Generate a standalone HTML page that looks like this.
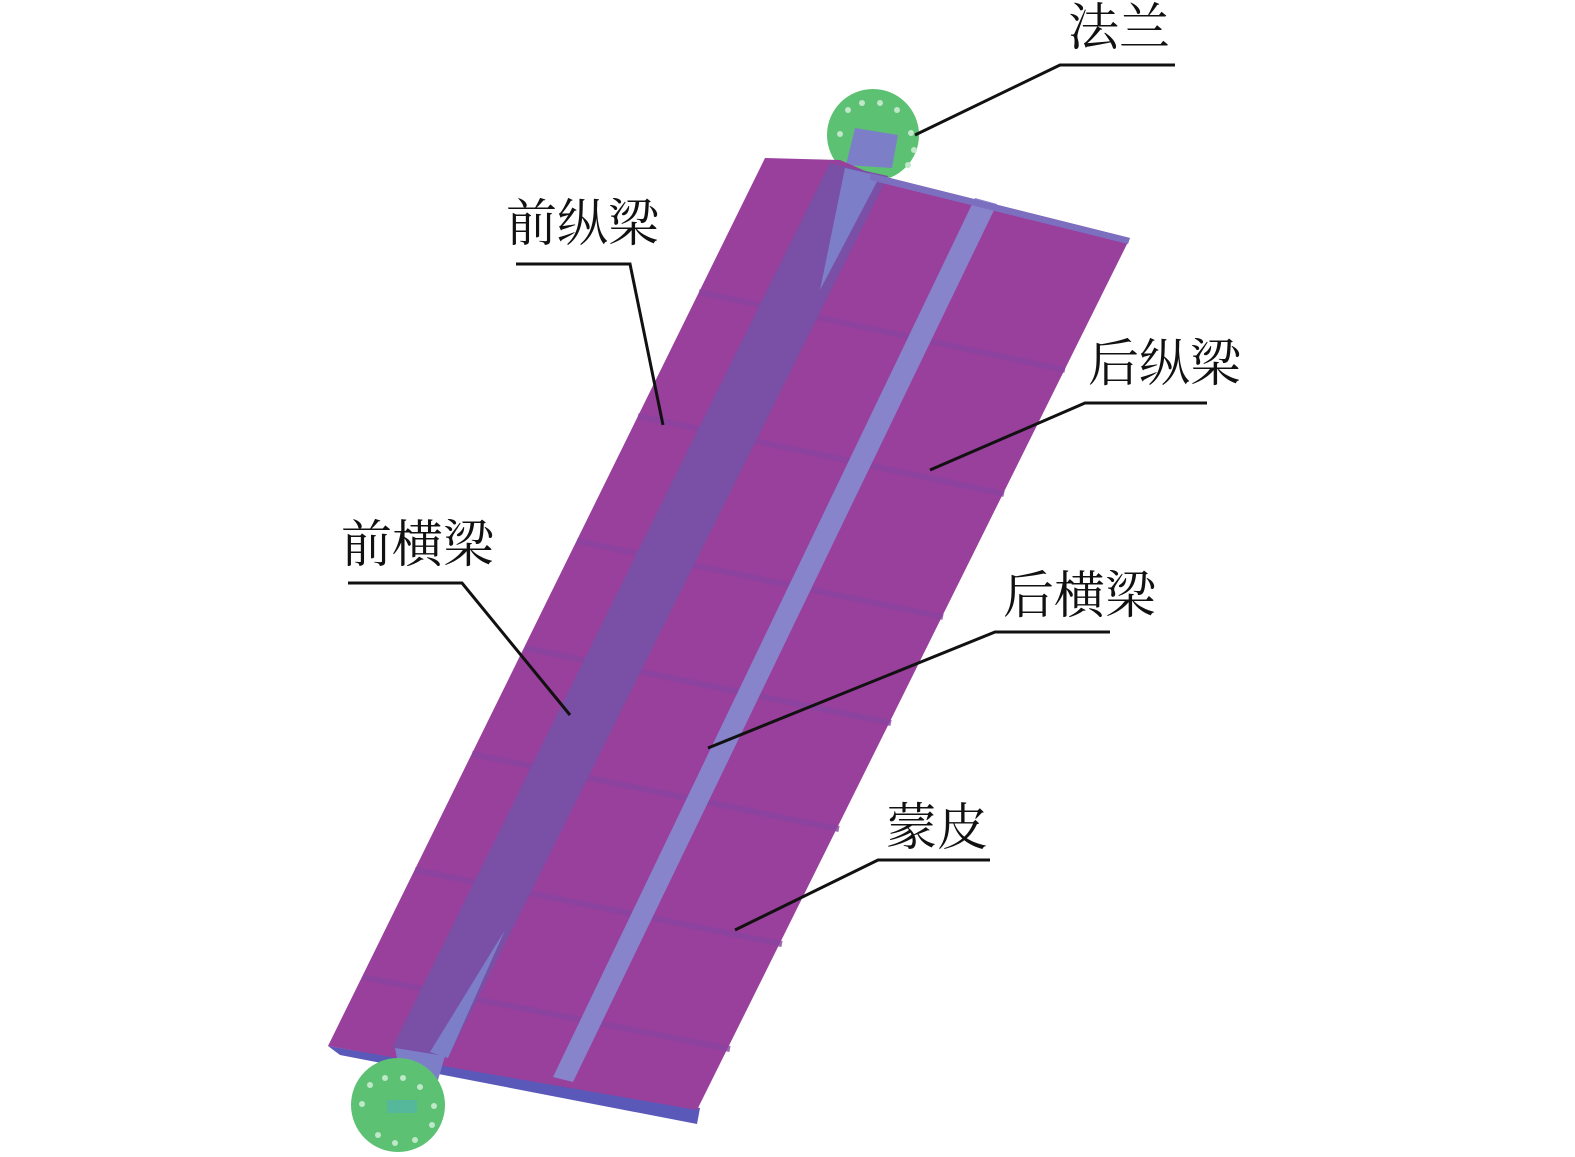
<!DOCTYPE html>
<html><head><meta charset="utf-8"><style>
body{margin:0;background:#fff}
svg{display:block}
text{font-family:"Liberation Serif","Noto Serif CJK SC",serif;font-size:51px;fill:#111}
</style></head><body>
<svg width="1575" height="1157" viewBox="0 0 1575 1157" xmlns="http://www.w3.org/2000/svg">
<circle cx="873" cy="135" r="46" fill="#5cc173"/>
<g fill="#bfe8c8">
<circle cx="848" cy="110" r="3"/><circle cx="862" cy="103" r="3"/><circle cx="880" cy="103" r="3"/><circle cx="897" cy="110" r="3"/><circle cx="911" cy="133" r="3"/><circle cx="914" cy="150" r="3"/><circle cx="908" cy="165" r="3"/><circle cx="840" cy="134" r="3"/>
</g>
<polygon points="855,128 898,135 892,168 846,165" fill="#7c7fc8"/>
<polygon points="328,1046 700,1108 697,1124 340,1055" fill="#5a58b8"/>
<polygon points="765,158 840,160 870,173 1130,238 697,1110 328,1046" fill="#993f9c"/>
<g stroke="#8a43a0" stroke-width="6" fill="none" opacity="0.8">
<line x1="699" y1="292" x2="1065" y2="370"/>
<line x1="638" y1="416" x2="1004" y2="494"/>
<line x1="577" y1="541" x2="943" y2="617"/>
<line x1="525" y1="648" x2="891" y2="723"/>
<line x1="472" y1="754" x2="839" y2="829"/>
<line x1="415" y1="870" x2="782" y2="944"/>
<line x1="363" y1="977" x2="730" y2="1049"/>
</g>
<polygon points="830,163 888,176 448,1058 392,1048" fill="#7a4fa6"/>
<polygon points="845,168 880,176 820,290" fill="#7c7fc8"/>
<polygon points="430,1052 448,1058 505,930" fill="#7c7fc8"/>
<polygon points="395,1048 445,1056 438,1080 400,1075" fill="#7c7fc8"/>
<polygon points="975,198 997,204 573,1082 553,1077" fill="#8784cc"/>
<polygon points="870,173 1130,238 1128,244 870,180" fill="#7c6fc0"/>
<circle cx="398" cy="1105" r="47" fill="#5cc173"/>
<g fill="#bfe8c8">
<circle cx="370" cy="1085" r="3"/><circle cx="385" cy="1078" r="3"/><circle cx="403" cy="1078" r="3"/><circle cx="420" cy="1087" r="3"/><circle cx="434" cy="1106" r="3"/><circle cx="432" cy="1125" r="3"/><circle cx="415" cy="1140" r="3"/><circle cx="395" cy="1143" r="3"/><circle cx="378" cy="1135" r="3"/><circle cx="362" cy="1104" r="3"/>
</g>
<rect x="387" y="1100" width="30" height="13" fill="#55b89a"/>
<g stroke="#111" stroke-width="3" fill="none">
<polyline points="1175,65 1060,65 915,135"/>
<polyline points="516,264 630,264 663,425"/>
<polyline points="1207,403 1085,403 930,470"/>
<polyline points="348,583 462,583 570,715"/>
<polyline points="1110,632 995,632 708,748"/>
<polyline points="990,860 878,860 735,930"/>
</g>
<text x="1068" y="45">法兰</text>
<text x="506" y="241">前纵梁</text>
<text x="1088" y="381">后纵梁</text>
<text x="341" y="562">前横梁</text>
<text x="1003" y="613">后横梁</text>
<text x="886" y="845">蒙皮</text>
</svg>
</body></html>
